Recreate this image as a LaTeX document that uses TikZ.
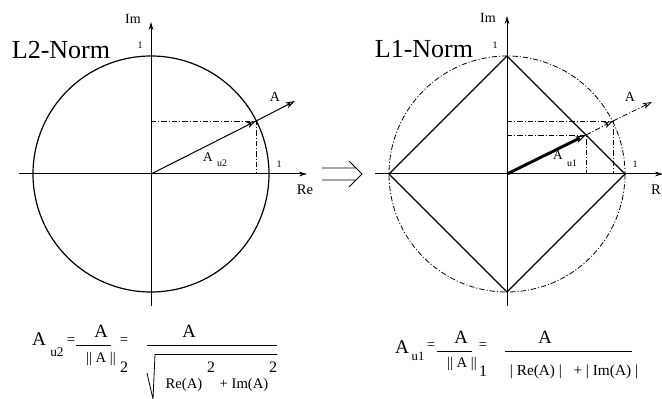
\documentclass[tikz,border=0pt]{standalone}
\usepackage{fontspec}
\setmainfont{Liberation Serif}
\usetikzlibrary{arrows.meta}
\begin{document}
\begin{tikzpicture}[x=0.75pt,y=-0.75pt,
  axis/.style={line width=0.75pt,-{Stealth[length=6pt,width=3.5pt]}},
  curve/.style={line width=0.9pt},
  dd/.style={line width=0.6pt,dash pattern=on 4pt off 1.5pt on 0.8pt off 1.5pt},
  vec/.style={line width=0.75pt,-{Stealth[open,length=7pt,width=4.5pt,inset=2pt]}},
  lbl/.style={inner sep=0pt,font=\fontsize{10.5}{10.5}\selectfont},
  one/.style={inner sep=0pt,font=\fontsize{7.5}{7.5}\selectfont},
  sub/.style={inner sep=0pt,font=\fontsize{7.5}{7.5}\selectfont},
  title/.style={inner sep=0pt,font=\fontsize{19.5}{20}\selectfont},
  fbig/.style={inner sep=0pt,font=\fontsize{14.5}{15}\selectfont},
  fnum/.style={inner sep=0pt,font=\fontsize{14}{14}\selectfont},
  fden/.style={inner sep=0pt,font=\fontsize{11}{11}\selectfont},
  fexp/.style={inner sep=0pt,font=\fontsize{12}{12}\selectfont},
  fsub/.style={inner sep=0pt,font=\fontsize{10}{10}\selectfont},
  bar/.style={line width=0.8pt}]
\useasboundingbox (0,0) rectangle (662,399);
% ---------- left: L2 ----------
\coordinate (O1) at (151,174);
\coordinate (xl1) at (19,174);
\coordinate (xr1) at (307,174);
\coordinate (yb1) at (151,306);
\coordinate (yt1) at (151,22);
\coordinate (P1) at (256,121);
\coordinate (T1) at (295,101);
\coordinate (P1x) at (256,174);
\coordinate (P1y) at (151,121);
\draw[axis] (xl1) -- (xr1);
\draw[axis] (yb1) -- (yt1);
\draw[curve] (O1) circle[radius=118];
\draw[dd] (P1y) -- (P1) -- (P1x);
\draw[vec] (O1) -- (P1);
\draw[vec] (P1) -- (T1);
\node[lbl] (im1) at (133,19) {Im};
\node[one] (one1t) at (140,45) {1};
\node[one] (one1r) at (279,164) {1};
\node[lbl,font=\fontsize{11}{11}\selectfont] (re1) at (305,190) {Re};
\node[lbl] (a1) at (275,97) {A};
\node[lbl,font=\fontsize{10}{10}\selectfont] (au2) at (208,157) {A};
\node[sub] (au2s) at (222,163) {u2};
\node[title] (t1) at (61,50) {L2-Norm};
% ---------- implication arrow ----------
\coordinate (da) at (322,168);
\coordinate (db) at (355,168);
\coordinate (dc) at (322,180);
\coordinate (dd) at (355,180);
\coordinate (h1) at (349,161);
\coordinate (h2) at (362,174);
\coordinate (h3) at (349,187);
\draw[line width=0.6pt] (da) -- (db) (dc) -- (dd) (h1) -- (h2) -- (h3);
% ---------- right: L1 ----------
\coordinate (O2) at (507,174);
\coordinate (xl2) at (375,174);
\coordinate (xr2) at (663,174);
\coordinate (yb2) at (507,306);
\coordinate (yt2) at (507,16);
\coordinate (dT) at (507,56);
\coordinate (dR) at (625,174);
\coordinate (dB) at (507,292);
\coordinate (dL) at (389,174);
\coordinate (Q) at (586,135);
\coordinate (P2) at (613,121);
\coordinate (T2) at (652,102);
\draw[axis] (xl2) -- (xr2);
\draw[axis] (yb2) -- (yt2);
\draw[dd] (O2) circle[radius=118];
\draw[curve] (dT) -- (dR) -- (dB) -- (dL) -- cycle;
\draw[dd] (507,121) -- (P2) -- (613,174);
\draw[dd] (507,135) -- (Q) -- (586,174);
\draw[line width=2.2pt,-{Stealth[open,length=8pt,width=5pt,inset=2pt,line width=0.8pt]}] (O2) -- (Q);
\draw[vec,dd,line width=0.6pt] (Q) -- (P2);
\draw[vec,dd,line width=0.6pt] (P2) -- (T2);
\node[lbl] (im2) at (488,18) {Im};
\node[one] (one2t) at (495,45) {1};
\node[one] (one2r) at (635,164) {1};
\node[lbl,font=\fontsize{11}{11}\selectfont] (re2) at (656,190) {R};
\node[lbl] (a2) at (630,97) {A};
\node[lbl,font=\fontsize{10}{10}\selectfont] (au1) at (558,155) {A};
\node[sub] (au1s) at (572,163) {u1};
\node[title] (t2) at (424,49) {L1-Norm};
% ---------- formula left ----------
\node[fbig] (fA1) at (39,339) {A};
\node[fsub] (fu2) at (57,352) {u2};
\node[fden] (feq1) at (71,341) {=};
\coordinate (b1a) at (76,345.5);
\coordinate (b1b) at (111,345.5);
\draw[bar] (b1a) -- (b1b);
\node[fnum] (fn1) at (101,331) {A};
\node[fden] (fd1) at (101,359) {|| A ||};
\node[fexp] (f2) at (124,367) {2};
\node[fden] (feq2) at (124,341) {=};
\coordinate (b2a) at (147,345.5);
\coordinate (b2b) at (277,345.5);
\draw[bar] (b2a) -- (b2b);
\node[fnum] (fn2) at (189,331) {A};
\coordinate (r1) at (147,373);
\coordinate (r2) at (153,399);
\coordinate (r3) at (155,354.5);
\coordinate (r4) at (277,354.5);
\draw[line width=0.6pt] (r1) -- (r2) -- (r3) -- (r4);
\node[fexp] (sq1) at (211,367) {2};
\node[fexp] (sq2) at (273,367) {2};
\node[fden] (fre) at (184,385) {Re(A)};
\node[fden] (fim) at (244,385) {+ Im(A)};
% ---------- formula right ----------
\node[fbig] (gA1) at (402,347) {A};
\node[fsub,font=\fontsize{9.5}{9.5}\selectfont] (gu1) at (418,356) {u1};
\node[fden] (geq1) at (431,346) {=};
\coordinate (c1a) at (437,351.5);
\coordinate (c1b) at (472,351.5);
\draw[bar] (c1a) -- (c1b);
\node[fnum] (gn1) at (461,337) {A};
\node[fden] (gd1) at (462,364) {|| A ||};
\node[fexp] (g1) at (483,371) {1};
\node[fden] (geq2) at (483,346) {=};
\coordinate (c2a) at (505,351.5);
\coordinate (c2b) at (632,351.5);
\draw[bar] (c2a) -- (c2b);
\node[fnum] (gn2) at (545,337) {A};
\node[fden,font=\fontsize{11.5}{11.5}\selectfont] (gd2) at (574,372) {| Re(A) |\ \ \ + | Im(A) |};
\end{tikzpicture}
\end{document}
